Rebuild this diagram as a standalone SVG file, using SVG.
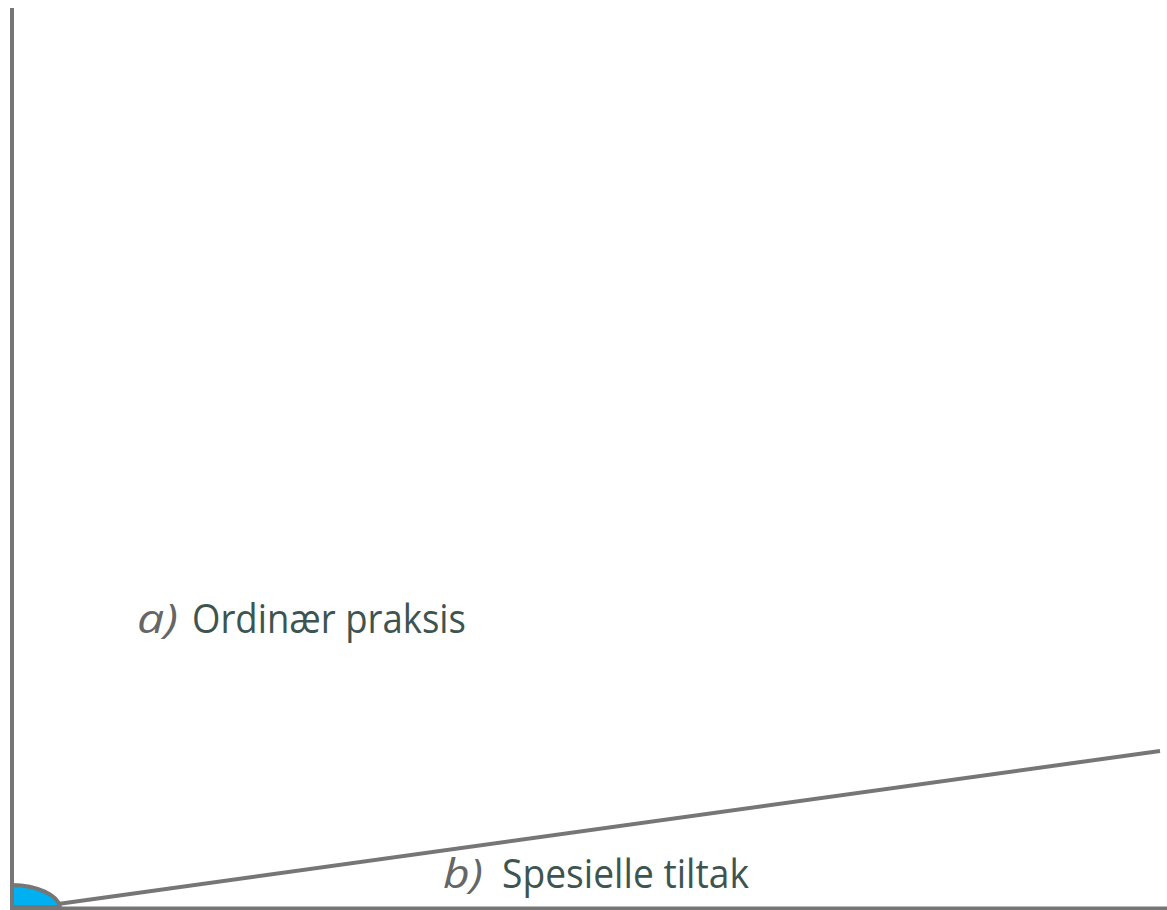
<svg xmlns="http://www.w3.org/2000/svg" width="1167" height="910" viewBox="0 0 1167 910">
<style>
.ax{stroke:#767676;stroke-width:4;fill:none}
.lbl{font-family:"Open Sans","Liberation Sans",sans-serif;font-size:41px;fill:#3D5450}
.it{font-style:italic;fill:#666666}
</style>
<rect width="1167" height="910" fill="#ffffff"/>
<g id="connectors">
<line class="ax" x1="12" y1="8" x2="12" y2="910"/>
<line class="ax" x1="10" y1="908.5" x2="1167" y2="908.5"/>
<line class="ax" x1="58" y1="904" x2="1160" y2="751"/>
</g>
<g id="origin">
<path d="M12,885 A50,24 0 0 1 60,907 L12,907 Z" fill="#00B0F0" stroke="#767676" stroke-width="4"/>
</g>
<g id="node-a">
<text class="lbl it" x="137" y="633" textLength="41" lengthAdjust="spacingAndGlyphs">a)</text>
<text class="lbl" x="192" y="633" textLength="274" lengthAdjust="spacingAndGlyphs">Ordinær praksis</text>
</g>
<g id="node-b">
<text class="lbl it" x="443" y="888" textLength="40" lengthAdjust="spacingAndGlyphs">b)</text>
<text class="lbl" x="502" y="888" textLength="247" lengthAdjust="spacingAndGlyphs">Spesielle tiltak</text>
</g>
</svg>
